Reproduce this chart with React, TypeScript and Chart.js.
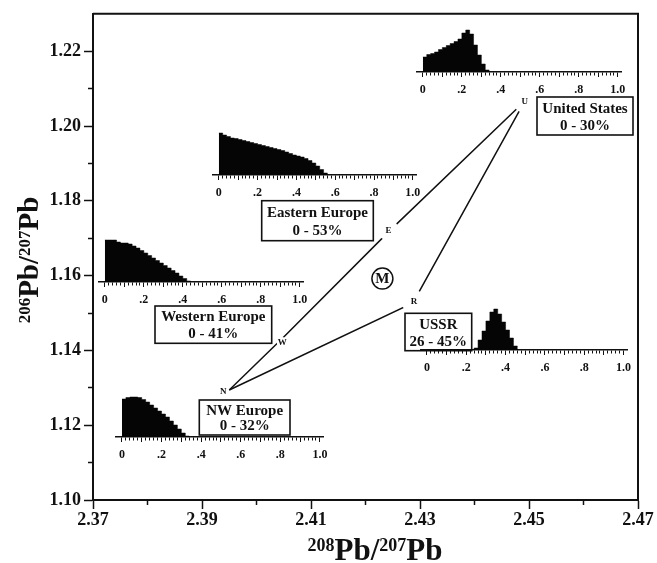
import React, { useEffect, useRef } from 'react';
import { Chart, registerables } from 'chart.js';

Chart.register(...registerables);

const FONT_FAMILY = '"Liberation Serif", "Times New Roman", Times, serif';
const INK = '#111';

// ---------- main diagram axes ----------
const X_RANGE = [2.37, 2.47];
const Y_RANGE = [1.1, 1.23];
const X_TICKS = [2.37, 2.38, 2.39, 2.4, 2.41, 2.42, 2.43, 2.44, 2.45, 2.46, 2.47];
const X_TICK_LABELS = ['2.37', '', '2.39', '', '2.41', '', '2.43', '', '2.45', '', '2.47'];
const Y_TICKS = [1.1, 1.11, 1.12, 1.13, 1.14, 1.15, 1.16, 1.17, 1.18, 1.19, 1.2, 1.21, 1.22];
const Y_TICK_LABELS = ['1.10', '', '1.12', '', '1.14', '', '1.16', '', '1.18', '', '1.20', '', '1.22'];
const X_TITLE = [
  { text: '208', sup: true },
  { text: 'Pb/', sup: false },
  { text: '207', sup: true },
  { text: 'Pb', sup: false },
];
const Y_TITLE = [
  { text: '206', sup: true },
  { text: 'Pb/', sup: false },
  { text: '207', sup: true },
  { text: 'Pb', sup: false },
];

// ---------- end-member vertices ----------
const VERTEX_NAMES = ['N', 'W', 'E', 'U', 'R'];
const VERTEX_X = [2.395, 2.405, 2.4245, 2.4492, 2.4287];
const VERTEX_Y = [1.1294, 1.1436, 1.1721, 1.2066, 1.1527];
const PATH_NWEU = ['N', 'W', 'E', 'U'];
const PATH_NRU = ['N', 'R', 'U'];
const MIX_LABEL = 'M';
const MIX_X = [2.4231];
const MIX_Y = [1.1592];

// ---------- inset histograms (relative frequency, bins of 0.02) ----------
const BIN_WIDTH = 0.02;
const INSET_MAJOR_VALUES = [0, 0.2, 0.4, 0.6, 0.8, 1.0];
const INSET_MAJOR_LABELS = ['0', '.2', '.4', '.6', '.8', '1.0'];
const US_FREQ = [15, 17.5, 18.5, 20, 22.5, 24.5, 26.5, 28.5, 30.5, 33, 39, 42, 38, 27, 17, 8, 2, 0];
const EE_FREQ = [42, 40, 38.5, 37, 36.5, 35.5, 34.5, 33.5, 32.5, 31.5, 30.5, 29.5, 28.5, 27.5, 26.5, 25.5, 24.5, 23, 21.5, 20, 19, 18, 16.5, 14.5, 12, 9, 5.5, 2, 0];
const WE_FREQ = [42, 42, 42, 40, 39, 39, 38, 36, 34, 31.5, 29, 26.5, 24, 21.5, 19, 16.5, 14, 11.5, 9, 6, 3.5, 1, 0];
const NW_FREQ = [38, 39.5, 40, 40, 39.5, 37.5, 35, 32, 29, 26, 23, 20, 16, 12, 8, 4, 1, 0];
const USSR_FREQ = [0, 0, 0, 0, 0, 0, 0, 0, 0, 0, 0, 0, 2, 10, 19, 29, 38, 41, 36, 28, 20, 12, 4, 0];
const REGION_NAMES = ['United States', 'Eastern Europe', 'Western Europe', 'NW Europe', 'USSR'];
const REGION_RANGES = ['0 - 30%', '0 - 53%', '0 - 41%', '0 - 32%', '26 - 45%'];
const REGION_FREQ = [US_FREQ, EE_FREQ, WE_FREQ, NW_FREQ, USSR_FREQ];

// ---------- layout / style (pixels) ----------
const W = 657;
const H = 563;
const INSET_LAYOUT = [
  { zeroPx: 423, axisY: 72, scale: 195 },
  { zeroPx: 219, axisY: 175, scale: 194 },
  { zeroPx: 105, axisY: 282, scale: 195 },
  { zeroPx: 121.5, axisY: 437, scale: 198 },
  { zeroPx: 426.7, axisY: 350, scale: 196.7 },
];
const BOX_LAYOUT = [
  { x: 537, y: 97, w: 96, h: 38 },
  { x: 261.7, y: 200.7, w: 111.6, h: 40 },
  { x: 155, y: 306, w: 116.7, h: 37.3 },
  { x: 199.3, y: 400, w: 90.7, h: 35 },
  { x: 405, y: 313.3, w: 66.7, h: 37.4 },
];
const LABEL_STYLE: Record<string, { dx: number; dy: number; clear: number }> = {
  N: { dx: -6, dy: 2, clear: 0 },
  W: { dx: -1.5, dy: 5.5, clear: 5.5 },
  E: { dx: -1.5, dy: 0, clear: 10.5 },
  U: { dx: 0, dy: 0, clear: 11.5 },
  R: { dx: 1, dy: -1, clear: 12 },
};

function vertex(name: string) {
  const i = VERTEX_NAMES.indexOf(name);
  return { x: VERTEX_X[i], y: VERTEX_Y[i] };
}

function drawSupText(ctx: CanvasRenderingContext2D, parts: { text: string; sup: boolean }[], cx: number, baseline: number, big: number, small: number) {
  ctx.textAlign = 'left';
  ctx.textBaseline = 'alphabetic';
  const widths = parts.map((p) => {
    ctx.font = `bold ${p.sup ? small : big}px ${FONT_FAMILY}`;
    return ctx.measureText(p.text).width;
  });
  const total = widths.reduce((a, b) => a + b, 0);
  let xp = cx - total / 2;
  const shift = 0.66 * big - 0.66 * small;
  parts.forEach((p, i) => {
    ctx.font = `bold ${p.sup ? small : big}px ${FONT_FAMILY}`;
    ctx.fillText(p.text, xp, p.sup ? baseline - shift : baseline);
    xp += widths[i];
  });
}

const annotationPlugin = {
  id: 'annotations',
  afterDatasetsDraw(chart: any) {
    const { ctx } = chart;
    const xs = chart.scales.x;
    const ys = chart.scales.y;
    ctx.save();
    VERTEX_NAMES.forEach((name, i) => {
      const st = LABEL_STYLE[name];
      const px = xs.getPixelForValue(VERTEX_X[i]) + st.dx;
      const py = ys.getPixelForValue(VERTEX_Y[i]) + st.dy;
      if (st.clear > 0) {
        ctx.beginPath();
        ctx.arc(px, py, st.clear, 0, Math.PI * 2);
        ctx.fillStyle = '#fff';
        ctx.fill();
      }
      ctx.fillStyle = INK;
      ctx.font = `bold 9px ${FONT_FAMILY}`;
      ctx.textAlign = 'center';
      ctx.textBaseline = 'middle';
      ctx.fillText(name, px, py);
    });
    const mx = xs.getPixelForValue(MIX_X[0]);
    const my = ys.getPixelForValue(MIX_Y[0]);
    ctx.fillStyle = INK;
    ctx.font = `bold 15px ${FONT_FAMILY}`;
    ctx.textAlign = 'center';
    ctx.textBaseline = 'middle';
    ctx.fillText(MIX_LABEL, mx, my + 1);

    REGION_NAMES.forEach((name, i) => {
      const b = BOX_LAYOUT[i];
      ctx.fillStyle = '#fff';
      ctx.fillRect(b.x, b.y, b.w, b.h);
      ctx.lineWidth = 1.6;
      ctx.strokeStyle = INK;
      ctx.strokeRect(b.x, b.y, b.w, b.h);
      ctx.fillStyle = INK;
      ctx.font = `bold 15px ${FONT_FAMILY}`;
      ctx.textAlign = 'center';
      ctx.textBaseline = 'middle';
      ctx.fillText(name, b.x + b.w / 2, b.y + b.h * 0.31);
      ctx.fillText(REGION_RANGES[i], b.x + b.w / 2, b.y + b.h * 0.76);
    });
    ctx.restore();
  },
  afterDraw(chart: any) {
    const { ctx, chartArea } = chart;
    ctx.save();
    ctx.strokeStyle = INK;
    ctx.lineWidth = 2;
    ctx.beginPath();
    ctx.moveTo(chartArea.left, chartArea.top);
    ctx.lineTo(chartArea.right, chartArea.top);
    ctx.lineTo(chartArea.right, chartArea.bottom);
    ctx.stroke();
    ctx.fillStyle = INK;
    drawSupText(ctx, X_TITLE, 375, 560, 31, 18);
    ctx.translate(38, 260);
    ctx.rotate(-Math.PI / 2);
    drawSupText(ctx, Y_TITLE, 0, 0, 29, 17);
    ctx.restore();
  },
};

function MainChart() {
  const ref = useRef<HTMLCanvasElement>(null);
  useEffect(() => {
    const lineStyle = { showLine: true, borderColor: INK, borderWidth: 1.5, pointRadius: 0, fill: false };
    const chart = new Chart(ref.current as HTMLCanvasElement, {
      type: 'scatter',
      data: {
        datasets: [
          { ...lineStyle, data: PATH_NWEU.map(vertex) },
          { ...lineStyle, data: PATH_NRU.map(vertex) },
          {
            data: MIX_X.map((x, i) => ({ x, y: MIX_Y[i] })),
            showLine: false,
            pointRadius: 10.5,
            pointBorderWidth: 1.5,
            pointBorderColor: INK,
            pointBackgroundColor: '#fff',
          },
        ],
      } as any,
      options: {
        animation: false,
        responsive: false,
        events: [],
        layout: { padding: { left: 0, right: 19, top: 13, bottom: 0 } },
        plugins: { legend: { display: false }, tooltip: { enabled: false } },
        scales: {
          x: {
            type: 'linear',
            min: X_RANGE[0],
            max: X_RANGE[1],
            afterBuildTicks: (axis: any) => {
              axis.ticks = X_TICKS.map((v) => ({ value: v }));
            },
            afterFit: (s: any) => {
              s.height = 63;
            },
            ticks: {
              autoSkip: false,
              maxRotation: 0,
              padding: 1,
              color: INK,
              font: { family: FONT_FAMILY, weight: 'bold', size: 18 },
              callback: (_v: any, i: number) => X_TICK_LABELS[i],
            },
            grid: {
              drawOnChartArea: false,
              tickLength: 9,
              tickColor: INK,
              tickWidth: 1.5,
              tickBorderDash: (c: any) => (X_TICK_LABELS[c.index] === '' ? [4, 30] : []),
            },
            border: { color: INK, width: 2 },
          },
          y: {
            type: 'linear',
            min: Y_RANGE[0],
            max: Y_RANGE[1],
            afterBuildTicks: (axis: any) => {
              axis.ticks = Y_TICKS.map((v) => ({ value: v }));
            },
            afterFit: (s: any) => {
              s.width = 93;
            },
            ticks: {
              autoSkip: false,
              padding: 3,
              color: INK,
              font: { family: FONT_FAMILY, weight: 'bold', size: 18 },
              callback: (_v: any, i: number) => Y_TICK_LABELS[i],
            },
            grid: {
              drawOnChartArea: false,
              tickLength: 9,
              tickColor: INK,
              tickWidth: 1.5,
              tickBorderDash: (c: any) => (Y_TICK_LABELS[c.index] === '' ? [0, 4, 5, 30] : []),
            },
            border: { color: INK, width: 2 },
          },
        },
      } as any,
      plugins: [annotationPlugin],
    });
    return () => chart.destroy();
  }, []);
  return <canvas ref={ref} width={W} height={H} style={{ position: 'absolute', left: 0, top: 0, width: W, height: H }} />;
}

const INSET_MIN = -0.03;
const INSET_MAX = 1.02;
const INSET_PAD = 15;
const INSET_TOP = 5;
const INSET_PLOT_H = 45;
const INSET_AXIS_H = 30;

function Inset({ freq, layout }: { freq: number[]; layout: { zeroPx: number; axisY: number; scale: number } }) {
  const ref = useRef<HTMLCanvasElement>(null);
  const chartW = (INSET_MAX - INSET_MIN) * layout.scale;
  const width = Math.ceil(INSET_PAD * 2 + chartW);
  const height = INSET_TOP + INSET_PLOT_H + INSET_AXIS_H;
  const left = layout.zeroPx - INSET_PAD - (0 - INSET_MIN) * layout.scale;
  const top = layout.axisY - INSET_TOP - INSET_PLOT_H;
  useEffect(() => {
    const chart = new Chart(ref.current as HTMLCanvasElement, {
      type: 'line',
      data: {
        datasets: [
          {
            data: freq.map((v, i) => ({ x: i * BIN_WIDTH, y: v })),
            stepped: 'before',
            fill: 'origin',
            backgroundColor: '#050505',
            borderColor: '#050505',
            borderWidth: 0.5,
            pointRadius: 0,
          },
        ],
      } as any,
      options: {
        animation: false,
        responsive: false,
        events: [],
        layout: { padding: { left: INSET_PAD, right: width - INSET_PAD - chartW, top: INSET_TOP, bottom: 0 } },
        plugins: { legend: { display: false }, tooltip: { enabled: false } },
        scales: {
          x: {
            type: 'linear',
            min: INSET_MIN,
            max: INSET_MAX,
            afterBuildTicks: (axis: any) => {
              const t = [];
              for (let k = 0; k <= 50; k++) t.push({ value: k / 50 });
              axis.ticks = t;
            },
            afterFit: (s: any) => {
              s.height = INSET_AXIS_H;
            },
            ticks: {
              autoSkip: false,
              maxRotation: 0,
              padding: 6,
              color: INK,
              font: { family: FONT_FAMILY, weight: 'bold', size: 12 },
              callback: (v: number) => {
                const j = INSET_MAJOR_VALUES.findIndex((m) => Math.abs(m - v) < 1e-6);
                return j >= 0 ? INSET_MAJOR_LABELS[j] : '';
              },
            },
            grid: {
              drawOnChartArea: false,
              tickLength: 5,
              tickColor: INK,
              tickWidth: 1,
              tickBorderDash: (c: any) => (c.index % 5 === 0 ? [] : [3, 20]),
            },
            border: { color: INK, width: 1.5 },
          },
          y: { display: false, min: 0, max: INSET_PLOT_H },
        },
      } as any,
    });
    return () => chart.destroy();
  }, []);
  return <canvas ref={ref} width={width} height={height} style={{ position: 'absolute', left, top, width, height }} />;
}

export default function App() {
  return (
    <div style={{ position: 'fixed', left: 0, top: 0, width: W, height: H, background: '#fff', overflow: 'hidden' }}>
      <MainChart />
      {REGION_FREQ.map((f, i) => (
        <Inset key={REGION_NAMES[i]} freq={f} layout={INSET_LAYOUT[i]} />
      ))}
    </div>
  );
}
